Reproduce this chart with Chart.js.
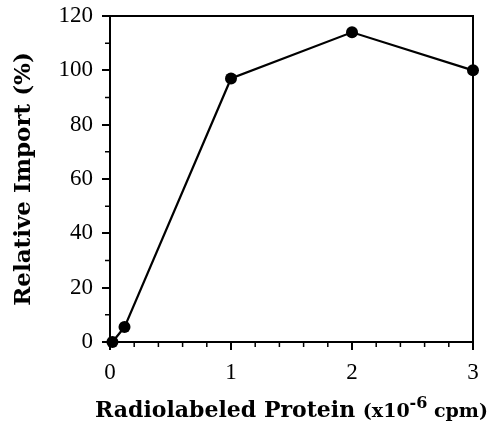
<!DOCTYPE html>
<html>
<head>
<meta charset="utf-8">
<script src="https://cdn.jsdelivr.net/npm/chart.js@4"></script>
<style>
  body { margin: 0; background: #fff; }
  #wrap { width: 493px; height: 429px; }
</style>
</head>
<body>
<div id="wrap"><canvas id="importChart" width="493" height="429"></canvas></div>
<script>
// Werte
const proteinMenge = [0.02, 0.12, 1, 2, 3];      // x10^-6 cpm
const relativerImport = [0, 5.5, 97, 114, 100]; // %
const xTicks = [0, 1, 2, 3];
const yTicks = [0, 20, 40, 60, 80, 100, 120];
const xMinor = [0.2, 0.4, 0.6, 0.8, 1.2, 1.4, 1.6, 1.8, 2.2, 2.4, 2.6, 2.8];
const yMinor = [10, 30, 50, 70, 90, 110];

const serif = "'Liberation Serif', 'DejaVu Serif', serif";
const titelSerif = "'DejaVu Serif', serif";

// Rahmen, kleine Striche und x-Achsentitel
const rahmenPlugin = {
  id: 'rahmen',
  afterDraw(chart) {
    const ctx = chart.ctx;
    const a = chart.chartArea;
    const xs = chart.scales.x, ys = chart.scales.y;
    ctx.save();
    ctx.strokeStyle = '#000';
    ctx.lineWidth = 2;
    ctx.strokeRect(a.left, a.top, a.right - a.left, a.bottom - a.top);

    ctx.lineWidth = 1.5;
    ctx.beginPath();
    xMinor.forEach(v => {
      const px = xs.getPixelForValue(v);
      ctx.moveTo(px, a.bottom);
      ctx.lineTo(px, a.bottom + 5);
    });
    yMinor.forEach(v => {
      const py = ys.getPixelForValue(v);
      ctx.moveTo(a.left, py);
      ctx.lineTo(a.left - 5, py);
    });
    ctx.stroke();

    // Achsentitel mit Hochstellung
    const baseline = 417;
    const teile = [
      { t: 'Radiolabeled Protein ', f: 'bold 22px ' + titelSerif, dy: 0 },
      { t: '(x10', f: 'bold 19px ' + titelSerif, dy: 0 },
      { t: '-6', f: 'bold 16px ' + titelSerif, dy: -9 },
      { t: ' cpm)', f: 'bold 19px ' + titelSerif, dy: 0 }
    ];
    let breite = 0;
    teile.forEach(p => { ctx.font = p.f; breite += ctx.measureText(p.t).width; });
    let x = (a.left + a.right) / 2 - breite / 2;
    ctx.fillStyle = '#000';
    ctx.textBaseline = 'alphabetic';
    teile.forEach(p => {
      ctx.font = p.f;
      ctx.fillText(p.t, x, baseline + p.dy);
      x += ctx.measureText(p.t).width;
    });
    ctx.restore();
  }
};

const ctx = document.getElementById('importChart').getContext('2d');
const chart = new Chart(ctx, {
  type: 'scatter',
  data: {
    datasets: [{
      data: proteinMenge.map((x, i) => ({ x: x, y: relativerImport[i] })),
      showLine: true,
      borderColor: '#000',
      backgroundColor: '#000',
      borderWidth: 2.2,
      pointRadius: 6,
      pointHoverRadius: 6,
      pointBorderWidth: 0,
      clip: false
    }]
  },
  options: {
    responsive: false,
    animation: false,
    layout: { padding: { top: 16, right: 20, left: 0, bottom: 0 } },
    plugins: {
      legend: { display: false },
      tooltip: { enabled: false }
    },
    scales: {
      x: {
        type: 'linear',
        min: 0,
        max: 3,
        afterBuildTicks: s => { s.ticks = xTicks.map(v => ({ value: v })); },
        afterFit: s => { s.height = 87; },
        ticks: { color: '#000', font: { family: serif, size: 23 }, padding: 9 },
        grid: { drawOnChartArea: false, color: '#000', tickLength: 8, lineWidth: 2 },
        border: { color: '#000', width: 2 }
      },
      y: {
        min: 0,
        max: 120,
        afterBuildTicks: s => { s.ticks = yTicks.map(v => ({ value: v })); },
        afterFit: s => { s.width = 110; s.paddingTop = 0; s.paddingBottom = 0; },
        ticks: { color: '#000', font: { family: serif, size: 23 }, padding: 9 },
        grid: { drawOnChartArea: false, color: '#000', tickLength: 8, lineWidth: 2 },
        border: { color: '#000', width: 2 },
        title: {
          display: true,
          text: 'Relative Import (%)',
          color: '#000',
          font: { family: titelSerif, size: 23, weight: 'bold' },
          padding: { top: 10, bottom: 0 }
        }
      }
    }
  },
  plugins: [rahmenPlugin]
});
</script>
</body>
</html>
